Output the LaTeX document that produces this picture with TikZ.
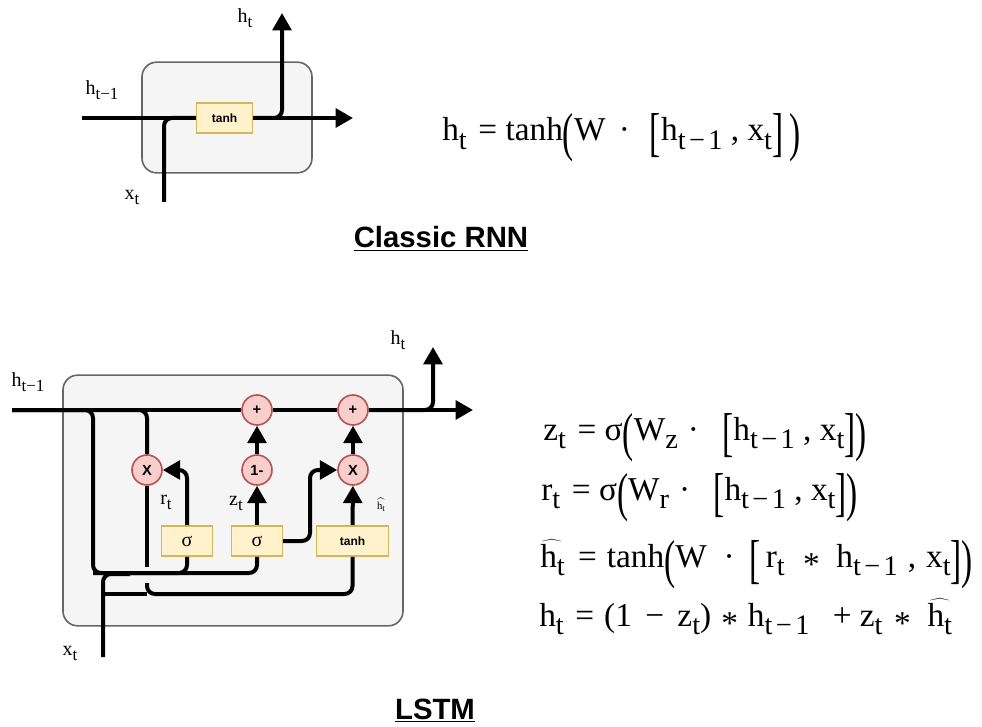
\documentclass[tikz,border=0pt]{standalone}
\usepackage{fontspec}
\setmainfont{Liberation Serif}
\newfontfamily\gatefont{Liberation Sans}
\usepackage{graphicx}
\usetikzlibrary{arrows.meta,positioning}

\definecolor{gatefill}{HTML}{FFF2CC}
\definecolor{gateline}{HTML}{D6B656}
\definecolor{opfill}{HTML}{F8CECC}
\definecolor{opline}{HTML}{B85450}
\definecolor{cellfill}{HTML}{F5F5F5}
\definecolor{cellline}{HTML}{666666}

\newcommand{\sbs}[1]{\raisebox{-0.25em}{\scalebox{0.85}{#1}}}
\newcommand{\tallp}[1]{\raisebox{-0.3em}{\scalebox{1}[1.6]{#1}}}
\newcommand{\hhat}{$\widehat{\mbox{h\sbs{t}}}$}
\newcommand{\starop}{\raisebox{-0.25em}{*}}
\newcommand{\gap}[1]{\hspace{#1em}}
\newcommand{\tmo}{\sbs{t\gap{.12}−\gap{.12}1}}

\begin{document}
\begin{tikzpicture}[
    x=0.75pt,y=-0.75pt,
    cell/.style={draw=cellline, fill=cellfill, line width=1.2pt, rounded corners=11pt},
    gatebox/.style={draw=gateline, fill=gatefill, line width=1.2pt, minimum height=22.5pt, inner sep=0pt, font=\gatefont\bfseries\fontsize{9}{9}\selectfont},
    opnode/.style={circle, draw=opline, fill=opfill, line width=1.2pt, minimum size=22.5pt, inner sep=0pt, font=\gatefont\bfseries\fontsize{11}{11}\selectfont},
    wire/.style={line width=3pt, rounded corners=6pt},
    flow/.style={wire, -{Triangle[length=13pt,width=14pt]}},
    lbl/.style={font=\fontsize{15}{15}\selectfont, inner sep=0pt},
    eqn/.style={font=\fontsize{25}{28}\selectfont, inner sep=0pt, anchor=base west},
    title/.style={font=\gatefont\bfseries\fontsize{22}{22}\selectfont, inner sep=0pt, anchor=base}
  ]
    \useasboundingbox (0,0) rectangle (982,727);

    % classic RNN
    \node[cell, minimum width=127.5pt, minimum height=83pt] (rnncell) at (227,117.5) {};
    \node[gatebox, minimum width=42pt] (rnntanh) at (224.5,118) {tanh};
    \node[lbl] (rnnprev) at (102,90) {h\sbs{t−1}};
    \node[lbl] (rnnout) at (245,18) {h\sbs{t}};
    \node[lbl] (rnnin) at (132,197) {x\sbs{t}};
    \coordinate (rnnleft) at (82,118);
    \coordinate (rnnright) at (353,118);
    \coordinate (rnnup) at (282,13);
    \coordinate (rnnbottom) at (164,202);
    \draw[wire] (rnnleft) -- (rnntanh.west);
    \draw[wire] (rnnbottom) |- (rnntanh.west);
    \draw[flow] (rnntanh.east) -- (rnnright);
    \draw[flow] (rnntanh.east) -| (rnnup);
    \node[eqn] (rnneq) at (442,141) {h\sbs{t}\gap{.35}=\gap{.25}tanh\tallp{(}W\gap{.4}·\gap{.6}\tallp{[}h\tmo\gap{.25},\gap{.25}x\sbs{t}\tallp{]}\gap{.2}\tallp{)}};
    \node[title] (rnntitle) at (441,248) {\underline{Classic RNN}};

    % gated cell
    \node[cell, minimum width=255pt, minimum height=188pt] (gcell) at (233,500.5) {};
    \node[opnode] (add1) at (257,410) {+};
    \node[opnode] (add2) at (353,410) {+};
    \node[opnode] (mulr) at (147,470) {X};
    \node[opnode] (inv) at (257,470) {1-};
    \node[opnode] (mulz) at (353,470) {X};
    \node[gatebox, minimum width=38pt, font=\fontsize{15}{15}\selectfont] (sigr) at (187,541) {σ};
    \node[gatebox, minimum width=38pt, font=\fontsize{15}{15}\selectfont] (sigz) at (257,541) {σ};
    \node[gatebox, minimum width=54pt] (cand) at (352.5,541) {tanh};
    \node[lbl] (prevlbl) at (28,382) {h\sbs{t−1}};
    \node[lbl] (outlbl) at (398,340) {h\sbs{t}};
    \node[lbl] (rlbl) at (166,502) {r\sbs{t}};
    \node[lbl] (zlbl) at (236,503) {z\sbs{t}};
    \node[lbl, font=\fontsize{8}{8}\selectfont] (hlbl) at (381,505) {\hhat};
    \node[lbl] (xlbl) at (70,653) {x\sbs{t}};

    \coordinate (start) at (12,410);
    \coordinate (end) at (473,410);
    \coordinate (up) at (433,347);
    \coordinate (xin) at (103,657);
    \coordinate (leftdrop) at (93,573);
    \coordinate (xjoin) at (130,574);
    \coordinate (hopa) at (147,567);
    \coordinate (hopb) at (147,583);
    \coordinate (lowrow) at (147,594);
    \coordinate (zbend) at (310,541);

    \draw[wire] (start) -- (add1);
    \draw[wire] (add1) -- (add2);
    \draw[flow] (add2) -- (end);
    \draw[flow] (add2.east) -| (up);
    \draw[wire] (start) -| (leftdrop) -| (sigz.south);
    \draw[wire] (leftdrop) -| (sigr.south);
    \draw[wire] (start) -| (mulr.north);
    \draw[wire] (mulr.south) -- (hopa);
    \draw[wire] (hopb) -- (lowrow) -| (cand.south);
    \draw[wire] (xin) |- (xjoin);
    \draw[wire] (xin |- lowrow) -- (lowrow);
    \draw[flow] (sigr.north) |- (mulr.east);
    \draw[flow] (sigz) -- (inv);
    \draw[flow] (inv) -- (add1);
    \draw[flow] (sigz.east) -- (zbend) |- (mulz.west);
    \draw[flow] (cand) -- (mulz);
    \draw[flow] (mulz) -- (add2);

    \node[eqn] (zeq) at (543,440) {z\sbs{t}\gap{.35}=\gap{.25}σ\tallp{(}W\sbs{z}\gap{.3}·\gap{.7}\tallp{[}h\tmo\gap{.25},\gap{.25}x\sbs{t}\tallp{]}\tallp{)}};
    \node[eqn] (req) at (541,500) {r\sbs{t}\gap{.35}=\gap{.25}σ\tallp{(}W\sbs{r}\gap{.3}·\gap{.7}\tallp{[}h\tmo\gap{.25},\gap{.25}x\sbs{t}\tallp{]}\tallp{)}};
    \node[eqn] (heq) at (540,567) {\hhat\gap{.4}=\gap{.3}tanh\tallp{(}W\gap{.5}·\gap{.45}\tallp{[}\gap{.15}r\sbs{t}\gap{.55}\starop\gap{.5}h\tmo\gap{.3},\gap{.3}x\sbs{t}\tallp{]}\tallp{)}};
    \node[eqn] (oeq) at (539,626) {h\sbs{t}\gap{.35}=\gap{.3}(1\gap{.4}−\gap{.4}z\sbs{t})\gap{.3}\starop\gap{.3}h\tmo\gap{.7}+\gap{.25}z\sbs{t}\gap{.35}\starop\gap{.5}\hhat};
    \node[title] (lstmtitle) at (435,719) {\underline{LSTM}};
  \end{tikzpicture}
\end{document}
